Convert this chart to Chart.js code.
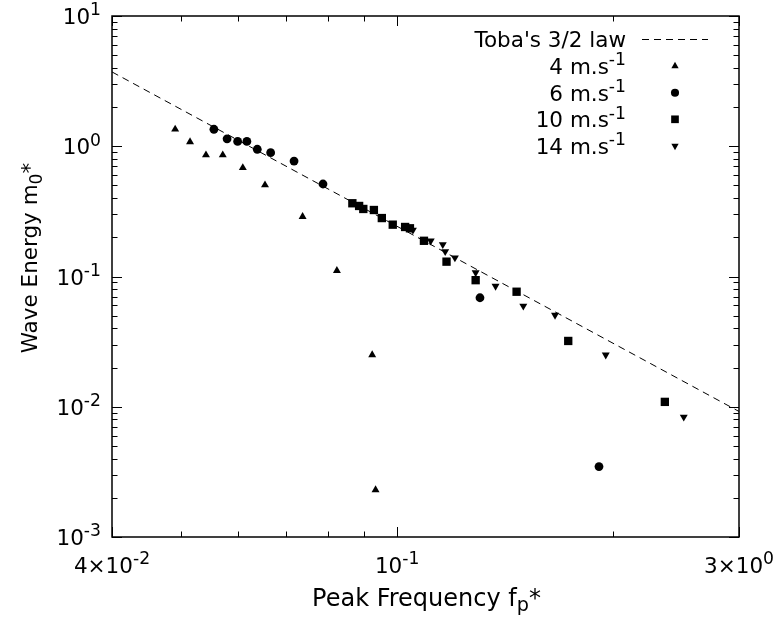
<!DOCTYPE html>
<html>
<head>
<meta charset="utf-8">
<script src="https://cdn.jsdelivr.net/npm/chart.js"></script>
<style>
  html, body { margin: 0; padding: 0; background: #fff; }
  #wrap { width: 779px; height: 624px; }
</style>
</head>
<body>
<div id="wrap"><canvas id="chart"></canvas></div>
<script>
// Dimensionless wave energy against peak frequency, log-log, with Toba's law.
// Text uses "^{..}" / "_{..}" for raised / lowered parts.
const tobaFreq = [0.04, 0.3];
const tobaEnergy = [3.72, 0.0092];

const freq4 = [0.0490, 0.0514, 0.0541, 0.0571, 0.0609, 0.0654, 0.0738, 0.0824, 0.0923, 0.0933];
const energy4 = [1.35, 1.08, 0.857, 0.857, 0.684, 0.504, 0.288, 0.111, 0.0250, 0.00230];

const freq6 = [0.0555, 0.0579, 0.0599, 0.0617, 0.0638, 0.0666, 0.0718, 0.0788, 0.1305, 0.1913];
const energy6 = [1.35, 1.14, 1.09, 1.09, 0.948, 0.892, 0.770, 0.513, 0.0687, 0.00347];

const freq10 = [0.0866, 0.0885, 0.0897, 0.0928, 0.0952, 0.0986, 0.1026, 0.1042, 0.1090, 0.1172, 0.1287, 0.1468, 0.1733, 0.2364];
const energy10 = [0.365, 0.348, 0.330, 0.324, 0.281, 0.250, 0.240, 0.2345, 0.188, 0.130, 0.0937, 0.0764, 0.0320, 0.0109];

const freq14 = [0.1052, 0.1114, 0.1158, 0.1167, 0.1204, 0.1287, 0.1372, 0.1500, 0.1661, 0.1955, 0.2512];
const energy14 = [0.2275, 0.188, 0.176, 0.1556, 0.1394, 0.107, 0.0845, 0.0594, 0.0506, 0.0250, 0.00834];

const seriesLabels = ["Toba's 3/2 law", "4 m.s^{-1}", "6 m.s^{-1}", "10 m.s^{-1}", "14 m.s^{-1}"];

const xMajor = [0.04, 0.1, 0.3];
const xMajorLabels = ["4×10^{-2}", "10^{-1}", "3×10^{0}"];
const xMinor = [0.05, 0.06, 0.07, 0.08, 0.09, 0.2];
const yMajor = [0.001, 0.01, 0.1, 1, 10];
const yMajorLabels = ["10^{-3}", "10^{-2}", "10^{-1}", "10^{0}", "10^{1}"];
const yMinorSteps = [2, 3, 4, 5, 6, 7, 8, 9];

const xTitle = "Peak Frequency f_{p}*";
const yTitle = "Wave Energy m_{0}*";

const FONT = 21.5;
const X_TITLE_FONT = 24;
const Y_TITLE_FONT = 21.5;

function pts(xs, ys) {
  return xs.map((x, i) => ({ x: x, y: ys[i] }));
}

function richParts(s) {
  const parts = [];
  let last = 0;
  s.replace(/([\^_])\{([^}]*)\}/g, (m, k, t, idx) => {
    if (idx > last) parts.push({ t: s.slice(last, idx), k: "" });
    parts.push({ t: t, k: k });
    last = idx + m.length;
    return m;
  });
  if (last < s.length) parts.push({ t: s.slice(last), k: "" });
  return parts;
}

function drawRich(ctx, s, x, y, align, size) {
  const parts = richParts(s);
  let w = 0;
  parts.forEach(p => {
    p.sz = p.k ? size * 0.8 : size;
    ctx.font = p.sz + 'px "DejaVu Sans"';
    p.w = ctx.measureText(p.t).width;
    w += p.w;
  });
  let cx = align === "right" ? x - w : align === "center" ? x - w / 2 : x;
  ctx.textAlign = "left";
  ctx.textBaseline = "alphabetic";
  ctx.fillStyle = "#000";
  parts.forEach(p => {
    ctx.font = p.sz + 'px "DejaVu Sans"';
    const dy = p.k === "^" ? -size * 0.4 : p.k === "_" ? size * 0.22 : 0;
    ctx.fillText(p.t, cx, y + dy);
    cx += p.w;
  });
}

function marker(ctx, style, rotation, radius, x, y) {
  const opts = { pointStyle: style, rotation: rotation, radius: radius, borderWidth: 0 };
  ctx.fillStyle = "#000";
  ctx.strokeStyle = "#000";
  Chart.helpers.drawPoint(ctx, opts, x, y);
}

const pointDefs = [
  { style: "triangle", rot: 0, r: 4.6 },
  { style: "circle", rot: 0, r: 4.4 },
  { style: "rect", rot: 0, r: 5.9 },
  { style: "triangle", rot: 180, r: 4.6 }
];

const framePlugin = {
  id: "frame",
  afterDraw(chart) {
    const ctx = chart.ctx;
    const a = chart.chartArea;
    const xs = chart.scales.x, ys = chart.scales.y;
    ctx.save();

    // border
    ctx.strokeStyle = "#000";
    ctx.lineWidth = 1.5;
    ctx.strokeRect(a.left, a.top, a.right - a.left, a.bottom - a.top);

    // ticks, inward on all sides
    ctx.lineWidth = 1;
    ctx.beginPath();
    const xTick = (v, len) => {
      const px = Math.round(xs.getPixelForValue(v)) + 0.5;
      ctx.moveTo(px, a.bottom); ctx.lineTo(px, a.bottom - len);
      ctx.moveTo(px, a.top); ctx.lineTo(px, a.top + len);
    };
    const yTick = (v, len) => {
      const py = Math.round(ys.getPixelForValue(v)) + 0.5;
      ctx.moveTo(a.left, py); ctx.lineTo(a.left + len, py);
      ctx.moveTo(a.right, py); ctx.lineTo(a.right - len, py);
    };
    xMajor.forEach(v => xTick(v, 10));
    xMinor.forEach(v => xTick(v, 5.5));
    yMajor.forEach((v, i) => {
      yTick(v, 10);
      if (i < yMajor.length - 1) yMinorSteps.forEach(m => yTick(v * m, 5.5));
    });
    ctx.stroke();

    // tick labels
    xMajor.forEach((v, i) => drawRich(ctx, xMajorLabels[i], xs.getPixelForValue(v), a.bottom + 36, "center", FONT));
    yMajor.forEach((v, i) => drawRich(ctx, yMajorLabels[i], a.left - 11, ys.getPixelForValue(v) + 8, "right", FONT));

    // axis titles
    drawRich(ctx, xTitle, 426.5, 606, "center", X_TITLE_FONT);
    ctx.save();
    ctx.translate(37, 258);
    ctx.rotate(-Math.PI / 2);
    drawRich(ctx, yTitle, 0, 0, "center", Y_TITLE_FONT);
    ctx.restore();

    // legend, text right-aligned with sample to its right
    const textRight = 626, sampleX = 675;
    seriesLabels.forEach((lab, i) => {
      const cy = 39.5 + i * 26.6;
      drawRich(ctx, lab, textRight, cy + 7.8, "right", FONT);
      if (i === 0) {
        ctx.save();
        ctx.strokeStyle = "#000";
        ctx.lineWidth = 1;
        ctx.setLineDash([7, 5]);
        ctx.beginPath();
        ctx.moveTo(642, cy); ctx.lineTo(708, cy);
        ctx.stroke();
        ctx.restore();
      } else {
        const d = pointDefs[i - 1];
        marker(ctx, d.style, d.rot, d.r * 0.92, sampleX, cy);
      }
    });

    ctx.restore();
  }
};

function scatterSet(label, xs, ys, def) {
  return {
    label: label,
    data: pts(xs, ys),
    pointStyle: def.style,
    rotation: def.rot,
    pointRadius: def.r,
    backgroundColor: "#000",
    borderColor: "#000",
    borderWidth: 0,
    showLine: false
  };
}

new Chart(document.getElementById("chart"), {
  type: "scatter",
  data: {
    datasets: [
      {
        label: seriesLabels[0],
        data: pts(tobaFreq, tobaEnergy),
        showLine: true,
        borderColor: "#000",
        borderWidth: 1,
        borderDash: [7, 5],
        pointRadius: 0,
        fill: false
      },
      scatterSet(seriesLabels[1], freq4, energy4, pointDefs[0]),
      scatterSet(seriesLabels[2], freq6, energy6, pointDefs[1]),
      scatterSet(seriesLabels[3], freq10, energy10, pointDefs[2]),
      scatterSet(seriesLabels[4], freq14, energy14, pointDefs[3])
    ]
  },
  options: {
    responsive: true,
    maintainAspectRatio: false,
    animation: false,
    events: [],
    layout: { autoPadding: false, padding: { left: 112, right: 40, top: 16, bottom: 87 } },
    plugins: { legend: { display: false }, tooltip: { enabled: false } },
    scales: {
      x: { type: "logarithmic", min: 0.04, max: 0.3, display: false },
      y: { type: "logarithmic", min: 0.001, max: 10, display: false }
    }
  },
  plugins: [framePlugin]
});
</script>
</body>
</html>
